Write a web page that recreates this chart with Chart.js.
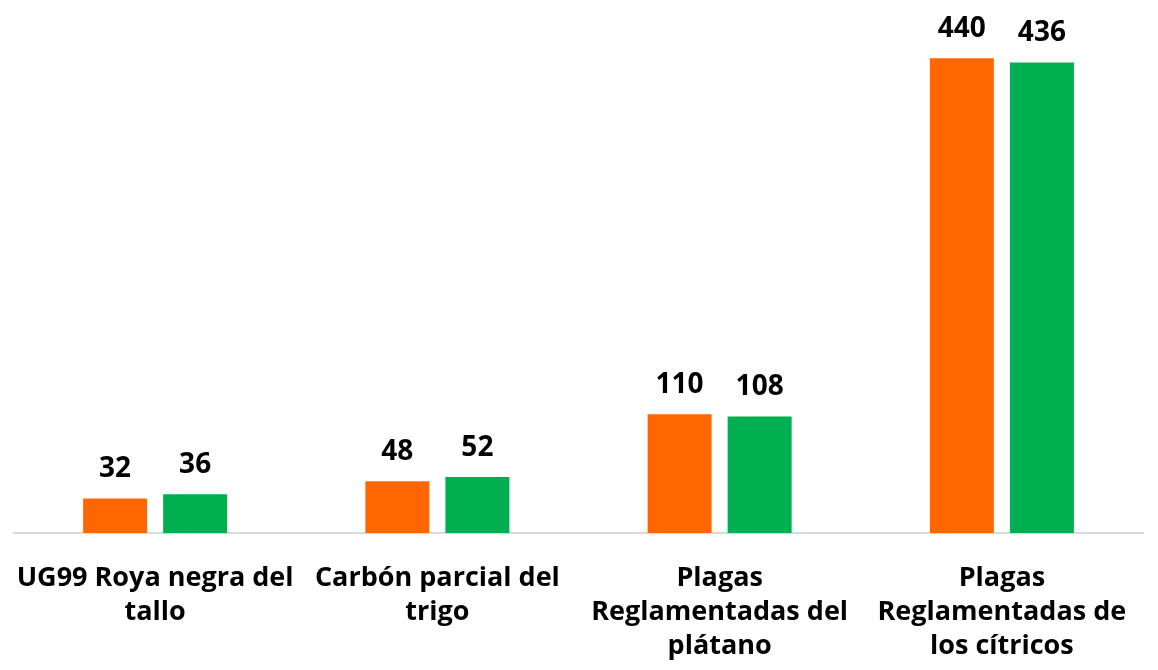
<!DOCTYPE html>
<html>
<head>
<meta charset="utf-8">
<script src="https://cdn.jsdelivr.net/npm/chart.js@4"></script>
<style>
  html, body { margin: 0; padding: 0; background: #fff; }
  #wrap { width: 1158px; height: 670px; }
</style>
</head>
<body>
<div id="wrap"><canvas id="chart"></canvas></div>
<script>
const categories = [
  ['UG99 Roya negra del', 'tallo'],
  ['Carbón parcial del', 'trigo'],
  ['Plagas', 'Reglamentadas del', 'plátano'],
  ['Plagas', 'Reglamentadas de', 'los cítricos']
];
const serieA = [32, 48, 110, 440];
const serieB = [36, 52, 108, 436];

const fontFam = '"Open Sans", Lato, sans-serif';

// labels above bars
const valueLabels = {
  id: 'valueLabels',
  afterDatasetsDraw(chart) {
    const ctx = chart.ctx;
    ctx.save();
    ctx.font = 'bold 28px ' + fontFam;
    ctx.fillStyle = '#000';
    ctx.textAlign = 'center';
    ctx.textBaseline = 'middle';
    chart.data.datasets.forEach((ds, i) => {
      chart.getDatasetMeta(i).data.forEach((bar, j) => {
        ctx.fillText(ds.data[j], bar.x, bar.y - 29);
      });
    });
    ctx.restore();
  }
};

new Chart(document.getElementById('chart'), {
  type: 'bar',
  data: {
    labels: categories,
    datasets: [
      { label: 'A', data: serieA, backgroundColor: '#FF6600' },
      { label: 'B', data: serieB, backgroundColor: '#00B050' }
    ]
  },
  options: {
    responsive: true,
    maintainAspectRatio: false,
    animation: false,
    datasets: { bar: { categoryPercentage: 0.567, barPercentage: 0.8 } },
    layout: { padding: { top: 15, left: 14, right: 15, bottom: 0 } },
    plugins: { legend: { display: false }, tooltip: { enabled: false } },
    scales: {
      y: { display: false, min: 0, max: 480 },
      x: {
        grid: { display: false },
        border: { display: true, color: '#d9d9d9', width: 2 },
        ticks: {
          color: '#000',
          maxRotation: 0,
          autoSkip: false,
          padding: 20,
          font: { family: fontFam, size: 27, weight: 'bold', lineHeight: 1.26 }
        },
        afterFit(scale) {
          scale.height = 137;
          // don't let the wide labels shrink the plot
          scale.paddingLeft = 0;
          scale.paddingRight = 0;
        }
      }
    }
  },
  plugins: [valueLabels]
});
</script>
</body>
</html>
